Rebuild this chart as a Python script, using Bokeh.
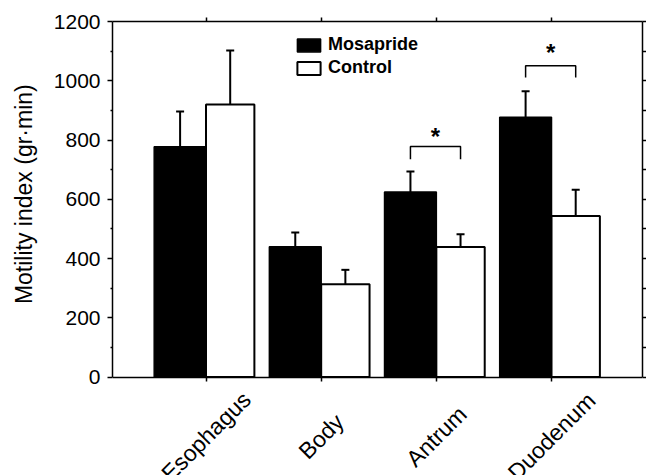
import math
from bokeh.plotting import figure
from bokeh.models import (ColumnDataSource, LinearAxis, FixedTicker, SingleIntervalTicker,
                          Range1d, Whisker, TeeHead, Legend, LegendItem)
from bokeh.core.properties import value
from bokeh.embed import file_html
from bokeh.resources import INLINE

# ---- data ----
categories = ["Esophagus", "Body", "Antrum", "Duodenum"]
mosapride = [777, 440, 625, 877]
mosapride_err = [119, 48, 69, 88]
control = [920, 313, 439, 544]
control_err = [182, 49, 43, 88]
sig_categories = ["Antrum", "Duodenum"]
sig_bracket_top = [778, 1051]
sig_bracket_leg = [735, 1011]
sig_star_y = [820, 1102]
y_ticks = [0, 200, 400, 600, 800, 1000, 1200]
y_minor_ticks = [100, 300, 500, 700, 900, 1100]
y_title = "Motility index (gr·min)"

# ---- styles / layout ----
FONT = "Liberation Sans"
M_OFF, M_W = -0.225, 0.45
C_OFF, C_W = 0.21, 0.42
Y_MIN, Y_MAX = 0, 1200
Y_VIEW_MIN = -332          # frame extends below 0 so rotated labels are not clipped
LABEL_Y = -200
TITLE_PAD = "\u00a0" * 17  # shifts the axis title up to sit beside the 0-1200 span

cat_x = [i + 1 for i in range(len(categories))]
src = ColumnDataSource(dict(
    x=cat_x,
    xm=[c + M_OFF for c in cat_x],
    xc=[c + C_OFF for c in cat_x],
    mos=mosapride,
    mos_hi=[v + e for v, e in zip(mosapride, mosapride_err)],
    con=control,
    con_hi=[v + e for v, e in zip(control, control_err)],
    cat=categories,
))

p = figure(width=646, height=475, output_backend="svg", toolbar_location=None,
           x_range=Range1d(0.188, 4.79), y_range=Range1d(Y_VIEW_MIN, Y_MAX),
           x_axis_location=None,
           min_border_left=112, min_border_right=4, min_border_top=21, min_border_bottom=0)
p.outline_line_color = None
p.xgrid.visible = False
p.ygrid.visible = False
p.background_fill_color = "white"
p.border_fill_color = "white"

# left axis
ya = p.yaxis[0]
ya.bounds = (Y_MIN, Y_MAX)
ya.ticker = FixedTicker(ticks=y_ticks, minor_ticks=y_minor_ticks)
ya.axis_label = TITLE_PAD + y_title
ya.axis_label_text_font = FONT
ya.axis_label_text_font_size = "23px"
ya.axis_label_text_font_style = "normal"
ya.axis_label_text_color = "black"
ya.axis_label_standoff = 14
ya.major_label_text_font = FONT
ya.major_label_text_font_size = "21px"
ya.major_label_text_color = "black"
ya.major_label_standoff = 7
ya.major_tick_out = 5
ya.major_tick_in = 0
ya.minor_tick_out = 2
ya.minor_tick_in = 0
ya.axis_line_width = 1.5
ya.major_tick_line_width = 1.5
ya.minor_tick_line_width = 1.5
ya.axis_line_color = "black"

# bottom axis, fixed at y = 0
xa = LinearAxis(ticker=FixedTicker(ticks=cat_x), major_label_overrides={c: "" for c in cat_x},
                major_label_text_font_size="1px", major_tick_out=4, major_tick_in=0,
                minor_tick_out=0, axis_line_width=1.5, major_tick_line_width=1.5,
                major_label_standoff=0, fixed_location=Y_MIN)
p.add_layout(xa, "below")

# top axis
ta = LinearAxis(ticker=FixedTicker(ticks=cat_x), major_label_overrides={c: "" for c in cat_x},
                major_label_text_font_size="1px", major_tick_out=4, major_tick_in=0,
                minor_tick_out=0, axis_line_width=1.5, major_tick_line_width=1.5,
                major_label_standoff=0)
p.add_layout(ta, "above")

# right axis
ra = LinearAxis(ticker=SingleIntervalTicker(interval=100, num_minor_ticks=0), bounds=(Y_MIN, Y_MAX),
                major_label_text_font_size="1px", major_label_text_alpha=0,
                major_tick_out=4, major_tick_in=0, minor_tick_out=0,
                axis_line_width=1.5, major_tick_line_width=1.5, major_label_standoff=0)
p.add_layout(ra, "right")

# bars
r_m = p.vbar(x="xm", top="mos", width=M_W, source=src, fill_color="black",
             line_color="black", line_width=1.5)
r_c = p.vbar(x="xc", top="con", width=C_W, source=src, fill_color="white",
             line_color="black", line_width=2)

# error bars (upper only)
for base, lo, hi in (("xm", "mos", "mos_hi"), ("xc", "con", "con_hi")):
    w = Whisker(base=base, lower=lo, upper=hi, source=src, line_width=2, line_color="black",
                upper_head=TeeHead(size=8, line_width=2, line_color="black"), lower_head=None)
    p.add_layout(w)

# significance brackets
bx, by = [], []
for cat, top, leg in zip(sig_categories, sig_bracket_top, sig_bracket_leg):
    c = categories.index(cat) + 1
    bx.append([c + M_OFF, c + M_OFF, c + C_OFF, c + C_OFF])
    by.append([leg, top, top, leg])
p.multi_line(xs=bx, ys=by, line_color="black", line_width=1.5)
star_x = [categories.index(c) + 1 + (M_OFF + C_OFF) / 2 for c in sig_categories]
p.text(x=star_x, y=sig_star_y, text=["*"] * len(star_x), text_font=value(FONT),
       text_font_size="24px", text_font_style="bold", text_align="center",
       text_baseline="middle", text_color="black", y_offset=2)

# rotated category labels
p.text(x="x", y=LABEL_Y, text="cat", source=src, angle=math.pi / 4,
       text_align="center", text_baseline="middle", text_font=value(FONT),
       text_font_size="23px", text_color="black")

# legend
legend = Legend(items=[LegendItem(label="Mosapride", renderers=[r_m]),
                       LegendItem(label="Control", renderers=[r_c])],
                location=(182, 397), padding=0, margin=0, spacing=2,
                glyph_width=29, glyph_height=16, label_height=16, label_standoff=5,
                label_text_font=FONT, label_text_font_size="18px",
                label_text_font_style="bold", label_text_color="black",
                border_line_color=None, background_fill_alpha=0)
p.add_layout(legend)

open("out.html", "w").write(file_html(p, INLINE))
